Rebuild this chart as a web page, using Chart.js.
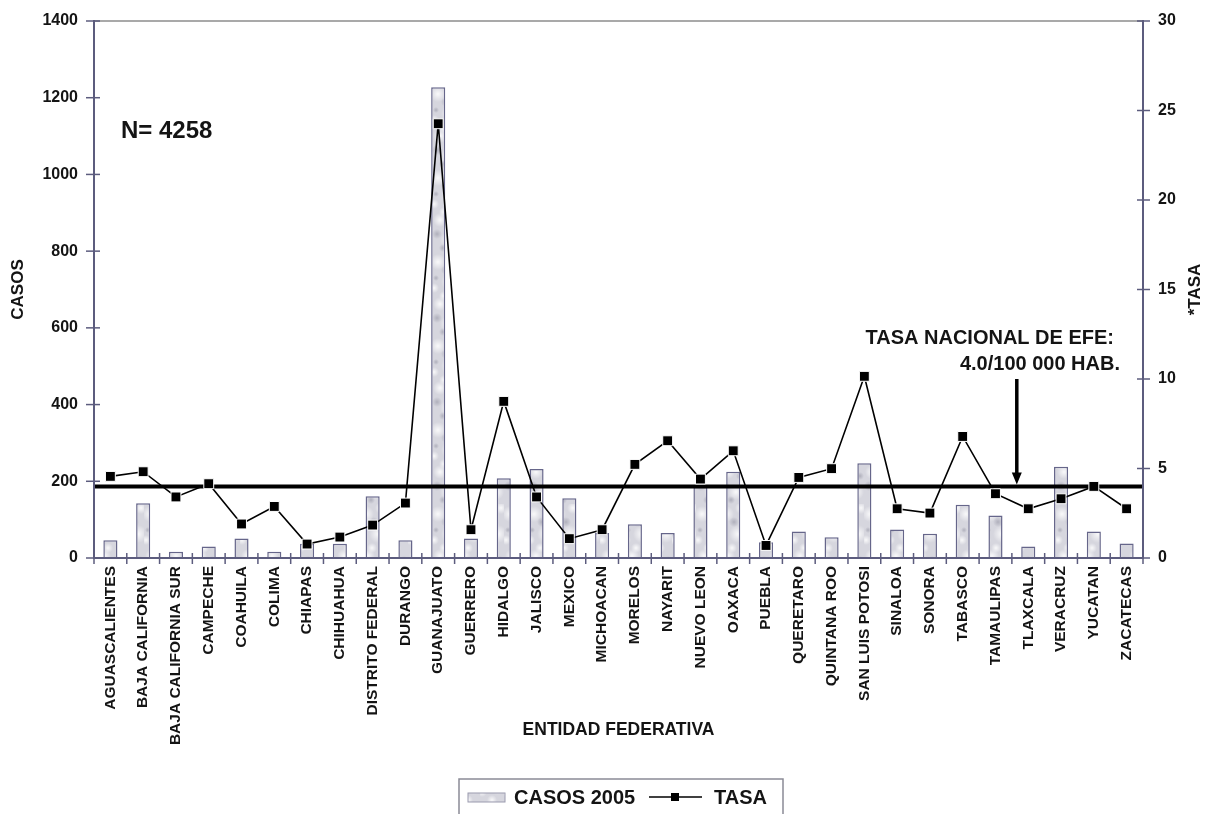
<!DOCTYPE html>
<html>
<head>
<meta charset="utf-8">
<title>Casos y tasa por entidad federativa, 2005</title>
<script src="https://cdn.jsdelivr.net/npm/chart.js@4.4.1/dist/chart.umd.min.js"></script>
<style>
  html, body { margin: 0; padding: 0; background: #ffffff; }
  #wrap { width: 1210px; height: 814px; position: relative; }
</style>
</head>
<body>
<div id="wrap"><canvas id="grafica" width="1210" height="814"></canvas></div>
<script>
// Entidades federativas (eje X)
const entidades = [
  'AGUASCALIENTES', 'BAJA CALIFORNIA', 'BAJA CALIFORNIA SUR', 'CAMPECHE', 'COAHUILA',
  'COLIMA', 'CHIAPAS', 'CHIHUAHUA', 'DISTRITO FEDERAL', 'DURANGO', 'GUANAJUATO',
  'GUERRERO', 'HIDALGO', 'JALISCO', 'MEXICO', 'MICHOACAN', 'MORELOS', 'NAYARIT',
  'NUEVO LEON', 'OAXACA', 'PUEBLA', 'QUERETARO', 'QUINTANA ROO', 'SAN LUIS POTOSI',
  'SINALOA', 'SONORA', 'TABASCO', 'TAMAULIPAS', 'TLAXCALA', 'VERACRUZ', 'YUCATAN',
  'ZACATECAS'
];

// Casos registrados en 2005 (eje izquierdo)
const casos2005 = [
  46, 143, 16, 30, 51, 16, 37, 37, 161, 46, 1227,
  51, 208, 232, 156, 65, 88, 65, 185, 225, 41,
  69, 54, 247, 74, 63, 139, 111, 30, 238, 69, 38
];

// Tasa por 100 000 habitantes (eje derecho)
const tasa = [
  4.56, 4.82, 3.41, 4.15, 1.90, 2.88, 0.78, 1.17, 1.84, 3.07, 24.26,
  1.58, 8.75, 3.41, 1.08, 1.58, 5.23, 6.55, 4.41, 5.99, 0.70,
  4.50, 4.99, 10.15, 2.75, 2.51, 6.79, 3.59, 2.75, 3.31, 4.00, 2.75
];

// Límites y pasos de los ejes
const ejeCasos = { min: 0, max: 1400, paso: 200 };
const ejeTasa = { min: 0, max: 30, paso: 5 };

// Tasa nacional y total de casos
const tasaNacional = 4.0;
const totalCasos = 4258;
// Posición de la flecha sobre el eje X (entre Tamaulipas y Tlaxcala)
const flechaCategoria = 27.65;

const FUENTE = "'Liberation Sans', Arial, Helvetica, sans-serif";
const COLOR_EJE = '#5c5c7e';
const COLOR_TEXTO = '#141414';

// Textura gris marmoleada para las barras
function texturaBarras() {
  const c = document.createElement('canvas');
  c.width = 24; c.height = 84;
  const g = c.getContext('2d');
  g.fillStyle = '#d6d6de';
  g.fillRect(0, 0, c.width, c.height);
  const claros = [[6, 10, 8], [18, 30, 9], [8, 52, 7], [16, 72, 8], [2, 36, 5], [21, 4, 6], [12, 44, 5]];
  const oscuros = [[14, 18, 5], [5, 66, 5], [20, 56, 4], [4, 26, 3], [11, 80, 4]];
  claros.forEach(([x, y, r]) => {
    const rg = g.createRadialGradient(x, y, 0, x, y, r);
    rg.addColorStop(0, 'rgba(255,255,255,0.85)');
    rg.addColorStop(1, 'rgba(255,255,255,0)');
    g.fillStyle = rg;
    g.fillRect(x - r, y - r, 2 * r, 2 * r);
  });
  oscuros.forEach(([x, y, r]) => {
    const rg = g.createRadialGradient(x, y, 0, x, y, r);
    rg.addColorStop(0, 'rgba(150,150,165,0.6)');
    rg.addColorStop(1, 'rgba(150,150,165,0)');
    g.fillStyle = rg;
    g.fillRect(x - r, y - r, 2 * r, 2 * r);
  });
  return g.createPattern(c, 'repeat');
}
const relleno = texturaBarras();

function linea(ctx, x1, y1, x2, y2, color, ancho) {
  ctx.beginPath();
  ctx.moveTo(x1, y1);
  ctx.lineTo(x2, y2);
  ctx.strokeStyle = color;
  ctx.lineWidth = ancho;
  ctx.stroke();
}

// Línea de la tasa nacional: sobre las barras, debajo de la serie TASA
const lineaNacional = {
  id: 'lineaNacional',
  afterDatasetDraw(chart, args) {
    if (args.index !== 0) return;
    const { ctx, chartArea: a, scales } = chart;
    const y = scales.y1.getPixelForValue(tasaNacional);
    ctx.save();
    linea(ctx, a.left, y, a.right, y, '#000000', 4);
    ctx.restore();
  }
};

// Ejes, marcas cruzadas, anotaciones y leyenda
const adornos = {
  id: 'adornos',
  afterDraw(chart) {
    const { ctx, chartArea: a, scales } = chart;
    const sx = scales.x, sy = scales.y, sy1 = scales.y1;
    ctx.save();

    // Borde superior
    linea(ctx, a.left, a.top, a.right, a.top, '#8c8c8c', 1.5);
    // Ejes
    linea(ctx, a.left, a.top - 1, a.left, a.bottom + 1, COLOR_EJE, 2);
    linea(ctx, a.right, a.top - 1, a.right, a.bottom + 1, COLOR_EJE, 2);
    linea(ctx, a.left, a.bottom, a.right, a.bottom, COLOR_EJE, 2);

    // Marcas del eje izquierdo
    sy.ticks.forEach(t => {
      const y = sy.getPixelForValue(t.value);
      linea(ctx, a.left - 8, y, a.left + 6, y, COLOR_EJE, 1.5);
    });
    // Marcas del eje derecho
    sy1.ticks.forEach(t => {
      const y = sy1.getPixelForValue(t.value);
      linea(ctx, a.right - 6, y, a.right + 7, y, COLOR_EJE, 1.5);
    });
    // Marcas del eje X, entre categorías
    const n = entidades.length;
    for (let i = 0; i <= n; i++) {
      const x = sx.getPixelForValue(i - 0.5);
      linea(ctx, x, a.bottom - 5, x, a.bottom + 6, COLOR_EJE, 1.5);
    }

    // Título del eje derecho, leído de abajo hacia arriba
    ctx.fillStyle = COLOR_TEXTO;
    ctx.font = 'bold 17px ' + FUENTE;
    ctx.textAlign = 'center';
    ctx.textBaseline = 'middle';
    ctx.translate(1195, (a.top + a.bottom) / 2);
    ctx.rotate(-Math.PI / 2);
    ctx.fillText('*TASA', 0, 0);
    ctx.setTransform(1, 0, 0, 1, 0, 0);

    // N total
    ctx.font = 'bold 24px ' + FUENTE;
    ctx.textAlign = 'left';
    ctx.textBaseline = 'middle';
    ctx.fillText('N= ' + totalCasos, a.left + 27, sy.getPixelForValue(1113));

    // Rótulo de la tasa nacional
    ctx.font = 'bold 20px ' + FUENTE;
    ctx.textAlign = 'right';
    ctx.fillText('TASA NACIONAL DE EFE:', a.right - 29, sy1.getPixelForValue(12.25));
    ctx.fillText(tasaNacional.toFixed(1) + '/100 000 HAB.', a.right - 23, sy1.getPixelForValue(10.8));

    // Flecha hacia la línea nacional
    const fx = sx.getPixelForValue(flechaCategoria);
    const fy = sy1.getPixelForValue(tasaNacional) - 2;
    const fy0 = sy1.getPixelForValue(10.0);
    linea(ctx, fx, fy0, fx, fy - 10, '#000000', 3.5);
    ctx.beginPath();
    ctx.moveTo(fx - 5, fy - 12);
    ctx.lineTo(fx + 5, fy - 12);
    ctx.lineTo(fx, fy);
    ctx.closePath();
    ctx.fillStyle = '#000000';
    ctx.fill();

    // Leyenda
    const barras = chart.data.datasets[0];
    const serie = chart.data.datasets[1];
    ctx.strokeStyle = '#8a8a96';
    ctx.lineWidth = 1.5;
    ctx.strokeRect(459, 779, 324, 45);
    ctx.fillStyle = barras.backgroundColor;
    ctx.fillRect(468, 793, 37, 9);
    ctx.strokeStyle = '#9a9aae';
    ctx.lineWidth = 1;
    ctx.strokeRect(468, 793, 37, 9);
    ctx.fillStyle = COLOR_TEXTO;
    ctx.font = 'bold 20px ' + FUENTE;
    ctx.textAlign = 'left';
    ctx.textBaseline = 'middle';
    ctx.fillText(barras.label, 514, 798);
    linea(ctx, 649, 797, 702, 797, serie.borderColor, 1.5);
    ctx.fillStyle = serie.pointBackgroundColor;
    ctx.fillRect(671, 793, 8, 8);
    ctx.fillStyle = COLOR_TEXTO;
    ctx.fillText(serie.label, 714, 798);

    ctx.restore();
  }
};

new Chart(document.getElementById('grafica'), {
  data: {
    labels: entidades,
    datasets: [
      {
        type: 'bar',
        label: 'CASOS 2005',
        data: casos2005,
        yAxisID: 'y',
        backgroundColor: relleno,
        borderColor: '#66668a',
        borderWidth: 1.5,
        categoryPercentage: 1.0,
        barPercentage: 0.43,
        order: 2
      },
      {
        type: 'line',
        label: 'TASA',
        data: tasa,
        yAxisID: 'y1',
        borderColor: '#000000',
        borderWidth: 1.6,
        pointStyle: 'rect',
        pointRadius: 7,
        pointBackgroundColor: '#000000',
        pointBorderColor: '#ffffff',
        pointBorderWidth: 1,
        tension: 0,
        fill: false,
        order: 1
      }
    ]
  },
  options: {
    responsive: false,
    animation: false,
    events: [],
    layout: { padding: { top: 21, left: 0, right: 0, bottom: 69 } },
    plugins: {
      legend: { display: false },
      tooltip: { enabled: false },
      title: { display: false }
    },
    scales: {
      x: {
        type: 'category',
        offset: true,
        grid: { display: true, drawOnChartArea: false, drawTicks: true, tickLength: 6, color: 'rgba(0,0,0,0)', offset: true },
        border: { display: false },
        ticks: {
          autoSkip: false,
          minRotation: 90,
          maxRotation: 90,
          padding: 2,
          color: COLOR_TEXTO,
          font: { family: FUENTE, size: 15.5, weight: 'bold' }
        },
        title: {
          display: true,
          text: 'ENTIDAD FEDERATIVA',
          color: COLOR_TEXTO,
          font: { family: FUENTE, size: 17.5, weight: 'bold' },
          padding: { top: 0, bottom: 4 }
        },
        afterFit(scale) { scale.height = 187; }
      },
      y: {
        position: 'left',
        min: ejeCasos.min,
        max: ejeCasos.max,
        grid: { display: true, drawOnChartArea: false, drawTicks: true, tickLength: 8, color: 'rgba(0,0,0,0)' },
        border: { display: false },
        ticks: {
          stepSize: ejeCasos.paso,
          padding: 8,
          color: COLOR_TEXTO,
          font: { family: FUENTE, size: 16, weight: 'bold' },
          callback: v => String(v)
        },
        title: {
          display: true,
          text: 'CASOS',
          color: COLOR_TEXTO,
          font: { family: FUENTE, size: 17, weight: 'bold' },
          padding: { top: 8, bottom: 0 }
        },
        afterFit(scale) { scale.width = 94; }
      },
      y1: {
        position: 'right',
        min: ejeTasa.min,
        max: ejeTasa.max,
        grid: { display: true, drawOnChartArea: false, drawTicks: true, tickLength: 7, color: 'rgba(0,0,0,0)' },
        border: { display: false },
        ticks: {
          stepSize: ejeTasa.paso,
          padding: 8,
          color: COLOR_TEXTO,
          font: { family: FUENTE, size: 16, weight: 'bold' },
          callback: v => String(v)
        },
        title: { display: false },
        afterFit(scale) { scale.width = 67; }
      }
    }
  },
  plugins: [lineaNacional, adornos]
});
</script>
</body>
</html>
